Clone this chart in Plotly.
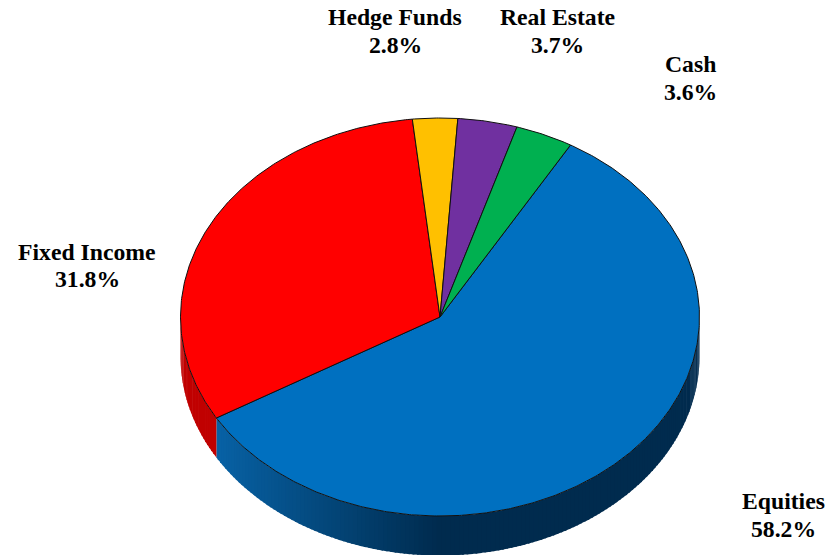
import numpy as np
import plotly.graph_objects as go

categories = ["Equities", "Fixed Income", "Hedge Funds", "Real Estate", "Cash"]
values = [58.2, 31.8, 2.8, 3.7, 3.6]
colors = ["#0070C0", "#FF0000", "#FFC000", "#7030A0", "#00B050"]
label_pos = {
    "Equities": (783, 515), "Fixed Income": (87, 265.5), "Hedge Funds": (395, 31),
    "Real Estate": (557, 31), "Cash": (690, 78),
}

CX, CY, RX, RY, DEPTH, START = 440, 317, 259.5, 199, 39.5, 30.2
fracs = np.array(values) / sum(values) * 360


def rim(a):
    a = np.radians(a)
    return CX + RX * np.sin(a), CY - RY * np.cos(a)


fig = go.Figure()


def wall_color(x, cat):
    if cat == "Fixed Income":
        return "#C00000"
    t = min(max((x - 217) / (440 - 217), 0), 1)
    c0, c1 = np.array([8, 98, 165]), np.array([0, 43, 78])
    r, g, b = (c0 + (c1 - c0) * t).astype(int)
    return f"rgb({r},{g},{b})"


# side wall, only the front half (90..270 deg) is visible
angle = START
for cat, span in zip(categories, fracs):
    a0, a1 = angle, angle + span
    lo, hi = max(a0, 90), min(a1, 270)
    if hi > lo:
        n = int(hi - lo) // 1 + 1
        edges = np.linspace(lo, hi, n + 1)
        for e0, e1 in zip(edges[:-1], edges[1:]):
            aa = np.linspace(e0, e1 + (0.4 if e1 < hi else 0), 4)
            x, y = rim(aa)
            xs = np.r_[x, x[::-1]]
            ys = np.r_[y, y[::-1] + DEPTH]
            col = wall_color((x[0] + x[-1]) / 2, cat)
            fig.add_trace(go.Scatter(x=xs, y=ys, mode="lines", fill="toself",
                                     fillcolor=col, line=dict(width=0, color=col),
                                     hoverinfo="skip", showlegend=False))
    angle = a1

# top face slices
angle = START
for cat, span, col in zip(categories, fracs, colors):
    aa = np.linspace(angle, angle + span, max(int(span * 2), 3))
    x, y = rim(aa)
    fig.add_trace(go.Scatter(x=np.r_[CX, x, CX], y=np.r_[CY, y, CY], mode="lines",
                             fill="toself", fillcolor=col,
                             line=dict(color="#101010", width=1),
                             name=cat, hoverinfo="name", showlegend=False))
    angle += span

for cat, val in zip(categories, values):
    px, py = label_pos[cat]
    for dy, txt in ((-14, cat), (13.5, f"{val:.1f}%")):
        fig.add_annotation(x=px, y=py + dy, text=f"<b>{txt}</b>", showarrow=False,
                           font=dict(family="Liberation Serif", size=23.7, color="black"),
                           align="center", xanchor="center", yanchor="middle")

fig.update_xaxes(range=[0, 830], visible=False, fixedrange=True)
fig.update_yaxes(range=[555, 0], visible=False, fixedrange=True)
fig.update_layout(width=830, height=555, margin=dict(l=0, r=0, t=0, b=0),
                  paper_bgcolor="white", plot_bgcolor="white", showlegend=False)
fig.write_html("out.html", config={"displayModeBar": False},
               post_script="document.body.style.margin='0';document.documentElement.style.overflow='hidden';")
